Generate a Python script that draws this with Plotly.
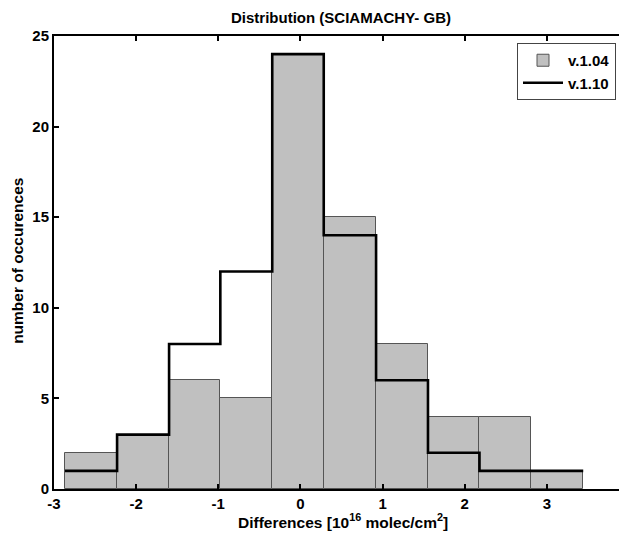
import plotly.graph_objects as go

bin_edges = [-2.866, -2.232, -1.599, -0.975, -0.343, 0.284, 0.921, 1.553, 2.180, 2.812, 3.443]
counts_v104 = [2, 3, 6, 5, 24, 15, 8, 4, 4, 1]
counts_v110 = [1, 3, 8, 12, 24, 14, 6, 2, 1, 1]
x_ticks = [-3, -2, -1, 0, 1, 2, 3]
x_tick_labels = ["-3", "-2", "-1", "0", "1", "2", "3"]
y_ticks = [0, 5, 10, 15, 20, 25]

centers = [(a + b) / 2 for a, b in zip(bin_edges[:-1], bin_edges[1:])]
widths = [b - a for a, b in zip(bin_edges[:-1], bin_edges[1:])]

FONT = "Liberation Sans, Arial, sans-serif"
OFF = 8  # page body margin
W, H = 627 - OFF, 533 - OFF
PX0, PX1, PY0, PY1 = 54, 627, 36, 489.3  # plot area in page pixels
L, T = PX0 - OFF, PY0 - OFF
B = H - (PY1 - OFF)
R = W - (PX1 - OFF)


def px(x):
    return (x - PX0) / (PX1 - PX0)


def py(y):
    return (PY1 - y) / (PY1 - PY0)


fig = go.Figure()
fig.add_trace(go.Bar(
    x=centers, y=counts_v104, width=widths, name="<b>v.1.04</b>",
    marker=dict(color="#c0c0c0", line=dict(color="#555555", width=1)),
))
fig.add_trace(go.Scatter(
    x=bin_edges, y=counts_v110 + [counts_v110[-1]], name="<b>v.1.10</b>",
    mode="lines", line=dict(color="black", width=2.6, shape="hv"),
))

fig.update_layout(
    width=W, height=H,
    margin=dict(l=L, r=R, t=T, b=B, autoexpand=False),
    paper_bgcolor="white", plot_bgcolor="white",
    font=dict(family=FONT, size=13, color="black"),
    title=dict(text="<b>Distribution (SCIAMACHY- GB)</b>",
               x=(341 - OFF) / W, xanchor="center",
               y=1 - (18 - OFF) / H, yanchor="middle",
               font=dict(size=15, family=FONT)),
    showlegend=True,
    legend=dict(x=px(517), y=py(43), xanchor="left", yanchor="top",
                bordercolor="#444444", borderwidth=1, bgcolor="white",
                font=dict(size=15, family=FONT), tracegroupgap=0,
                itemwidth=40),
    bargap=0,
    annotations=[
        dict(text="<b>Differences [10<sup>16</sup> molec/cm<sup>2</sup>]</b>",
             x=px(343), y=py(521), xref="paper", yref="paper",
             xanchor="center", yanchor="middle", showarrow=False,
             font=dict(size=15.5, family=FONT)),
        dict(text="<b>number of occurences</b>", textangle=-90,
             x=px(18), y=py(261), xref="paper", yref="paper",
             xanchor="center", yanchor="middle", showarrow=False,
             font=dict(size=15.5, family=FONT)),
    ],
)
fig.update_xaxes(
    range=[-3, 3.976], tickvals=x_ticks, ticktext=x_tick_labels,
    ticks="inside", ticklen=5, automargin=False,
    tickwidth=1.5, tickcolor="black", showline=True, linecolor="black",
    linewidth=2, mirror="ticks", showgrid=False, zeroline=False,
    tickfont=dict(size=15, family=FONT, weight="bold"),
)
fig.update_yaxes(
    range=[0, 25], tickvals=y_ticks, ticks="inside", ticklen=5,
    automargin=False,
    tickwidth=1.5, tickcolor="black", showline=True, linecolor="black",
    linewidth=2, mirror="ticks", showgrid=False, zeroline=False,
    tickfont=dict(size=15, family=FONT, weight="bold"),
)

fig.write_html("out.html")
